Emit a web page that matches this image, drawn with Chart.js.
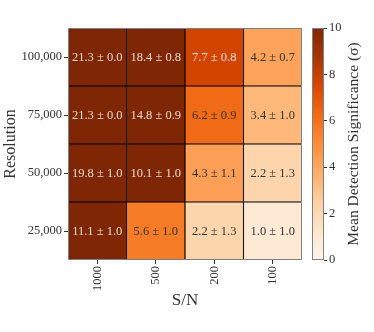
<!DOCTYPE html>
<html>
<head>
<meta charset="utf-8">
<script src="https://cdn.jsdelivr.net/npm/chart.js@4"></script>
<style>
body { margin: 0; background: #fff; }
#wrap { position: relative; width: 374px; height: 332px; }
#heat { position: absolute; left: 0; top: 0; }
#cbar { position: absolute; left: 308px; top: 0; }
</style>
</head>
<body>
<div id="wrap">
  <canvas id="heat" width="305" height="332"></canvas>
  <canvas id="cbar" width="66" height="332"></canvas>
</div>
<script>
// S/N columns, left to right
var snLabels = ['1000', '500', '200', '100'];
// resolution rows, bottom to top
var resLabels = ['25,000', '50,000', '75,000', '100,000'];

var mean25k = [11.1, 5.6, 2.2, 1.0];
var std25k = [1.0, 1.0, 1.3, 1.0];
var mean50k = [19.8, 10.1, 4.3, 2.2];
var std50k = [1.0, 1.0, 1.1, 1.3];
var mean75k = [21.3, 14.8, 6.2, 3.4];
var std75k = [0.0, 0.9, 0.9, 1.0];
var mean100k = [21.3, 18.4, 7.7, 4.2];
var std100k = [0.0, 0.8, 0.8, 0.7];

var cbTicks = [0, 2, 4, 6, 8, 10];
var vmin = 0, vmax = 10;

var means = [mean25k, mean50k, mean75k, mean100k];
var stds = [std25k, std50k, std75k, std100k];

// matplotlib "Oranges"
var oranges = ['#fff5eb', '#fee6ce', '#fdd0a2', '#fdae6b', '#fd8d3c', '#f16913', '#d94801', '#a63603', '#7f2704'];

function hexRgb(h) {
  return [parseInt(h.substr(1, 2), 16), parseInt(h.substr(3, 2), 16), parseInt(h.substr(5, 2), 16)];
}
function orange(v) {
  var t = Math.max(0, Math.min(1, (v - vmin) / (vmax - vmin))) * 8;
  var i = Math.min(7, Math.floor(t));
  var f = t - i;
  var a = hexRgb(oranges[i]), b = hexRgb(oranges[i + 1]);
  return 'rgb(' + [0, 1, 2].map(function (k) { return Math.round(a[k] + (b[k] - a[k]) * f); }).join(',') + ')';
}

var serif = "'Liberation Serif', 'DejaVu Serif', serif";
var inkColor = '#333';

var framePlugin = {
  id: 'frame',
  afterDatasetsDraw: function (chart) {
    var a = chart.chartArea, ctx = chart.ctx;
    ctx.save();
    ctx.strokeStyle = '#808080';
    ctx.lineWidth = 1;
    ctx.strokeRect(a.left + 0.5, a.top + 0.5, a.right - a.left - 1, a.bottom - a.top - 1);
    ctx.restore();
  }
};

var cellText = {
  id: 'cellText',
  afterDatasetsDraw: function (chart) {
    var ctx = chart.ctx;
    ctx.save();
    ctx.font = '12.5px ' + serif;
    ctx.textAlign = 'center';
    ctx.textBaseline = 'middle';
    chart.data.datasets.forEach(function (ds, r) {
      chart.getDatasetMeta(r).data.forEach(function (bar, c) {
        var m = means[r][c];
        ctx.fillStyle = m > 7 ? 'rgba(255,255,255,0.82)' : '#333';
        ctx.fillText(m.toFixed(1) + ' \u00b1 ' + stds[r][c].toFixed(1), bar.x, (bar.y + bar.base) / 2 + 1);
      });
    });
    ctx.restore();
  }
};

var heatSets = means.map(function (row, r) {
  return {
    label: resLabels[r],
    data: row.map(function () { return [r, r + 1]; }),
    backgroundColor: row.map(orange),
    borderColor: '#000',
    borderWidth: 0.9,
    borderSkipped: false,
    barPercentage: 1,
    categoryPercentage: 1,
    grouped: false
  };
});

new Chart(document.getElementById('heat'), {
  type: 'bar',
  data: { labels: snLabels, datasets: heatSets },
  options: {
    responsive: false,
    animation: false,
    layout: { padding: { top: 28, right: 3, left: 0, bottom: 0 } },
    plugins: { legend: { display: false }, tooltip: { enabled: false } },
    scales: {
      x: {
        offset: true,
        grid: { offset: false, drawOnChartArea: false, tickLength: 4, color: inkColor },
        border: { display: false },
        ticks: { minRotation: 90, maxRotation: 90, padding: 2, color: inkColor, font: { family: serif, size: 12.5 } },
        title: { display: true, text: 'S/N', color: inkColor, font: { family: serif, size: 17 }, padding: { top: 0, bottom: 21 } },
        afterFit: function (s) { s.height = 72; }
      },
      y: {
        min: 0,
        max: 4,
        afterBuildTicks: function (s) {
          s.ticks = resLabels.map(function (l, i) { return { value: i + 0.5 }; });
        },
        ticks: {
          color: inkColor,
          padding: 2,
          font: { family: serif, size: 12.5 },
          callback: function (v, i) { return resLabels[i]; }
        },
        grid: { drawOnChartArea: false, tickLength: 4, color: inkColor },
        border: { display: false },
        title: { display: true, text: 'Resolution', color: inkColor, font: { family: serif, size: 16 }, padding: { top: 1, bottom: 0 } },
        afterFit: function (s) { s.width = 68; }
      }
    }
  },
  plugins: [cellText, framePlugin]
});

var cbTitle = {
  id: 'cbTitle',
  afterDraw: function (chart) {
    var a = chart.chartArea, ctx = chart.ctx;
    ctx.save();
    ctx.translate(46, (a.top + a.bottom) / 2);
    ctx.rotate(-Math.PI / 2);
    ctx.font = '15.5px ' + serif;
    ctx.fillStyle = inkColor;
    ctx.textAlign = 'center';
    ctx.textBaseline = 'middle';
    ctx.fillText('Mean Detection Significance (\u03c3)', 0, 0);
    ctx.restore();
  }
};

new Chart(document.getElementById('cbar'), {
  type: 'bar',
  data: {
    labels: [''],
    datasets: [{
      data: [[vmin, vmax]],
      backgroundColor: function (c) {
        var a = c.chart.chartArea;
        if (!a) return oranges[4];
        var g = c.chart.ctx.createLinearGradient(0, a.bottom, 0, a.top);
        oranges.forEach(function (col, i) { g.addColorStop(i / 8, col); });
        return g;
      },
      borderWidth: 0,
      barPercentage: 1,
      categoryPercentage: 1
    }]
  },
  options: {
    responsive: false,
    animation: false,
    layout: { padding: { top: 28, left: 4, right: 0, bottom: 72 } },
    plugins: { legend: { display: false }, tooltip: { enabled: false } },
    scales: {
      x: { display: false },
      y: {
        position: 'right',
        min: vmin,
        max: vmax,
        afterBuildTicks: function (s) {
          s.ticks = cbTicks.map(function (v) { return { value: v }; });
        },
        ticks: { color: inkColor, padding: 2, font: { family: serif, size: 12.5 } },
        grid: { drawOnChartArea: false, tickLength: 3, color: inkColor },
        border: { display: false },
        afterFit: function (s) { s.width = 50; }
      }
    }
  },
  plugins: [framePlugin, cbTitle]
});
</script>
</body>
</html>
